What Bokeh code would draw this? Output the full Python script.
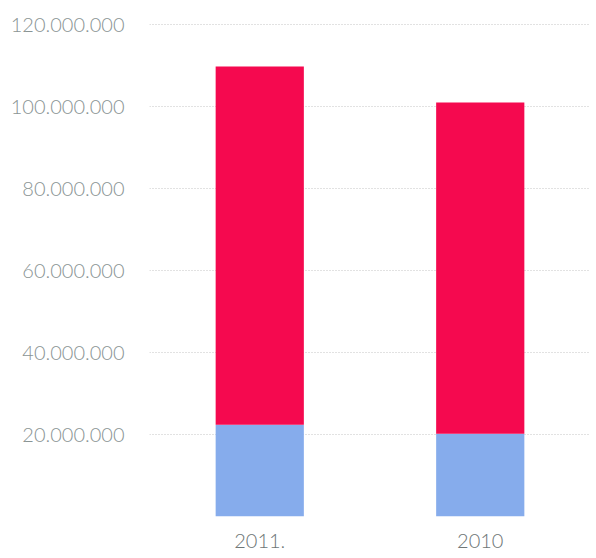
from bokeh.plotting import figure
from bokeh.models import FactorRange, Range1d, FixedTicker, CustomJSTickFormatter
from bokeh.embed import file_html
from bokeh.resources import INLINE

years = ["2011.", "2010"]
blue_part = [22_400_000, 20_200_000]
red_part = [87_400_000, 80_800_000]
y_ticks = [0, 20_000_000, 40_000_000, 60_000_000, 80_000_000, 100_000_000, 120_000_000]

data = {"year": years, "blue": blue_part, "red": red_part}

p = figure(x_range=FactorRange(*years), y_range=Range1d(0, 121_000_000),
           frame_width=441, frame_height=496, output_backend="svg", toolbar_location=None,
           min_border_left=149, min_border_right=4, min_border_top=20, min_border_bottom=40)

p.vbar_stack(["blue", "red"], x="year", width=0.4, source=data,
             color=["#86acec", "#f5094f"], line_color=None)

p.outline_line_color = None
p.background_fill_color = "white"
p.border_fill_color = "white"

p.xgrid.grid_line_color = None
p.ygrid.grid_line_color = "#c4c4c4"
p.ygrid.grid_line_dash = "1 2"
p.ygrid.grid_line_width = 1

p.yaxis.ticker = FixedTicker(ticks=y_ticks)
p.yaxis.formatter = CustomJSTickFormatter(code="""
if (tick == 0) { return ""; }
return tick.toString().replace(/\\B(?=(\\d{3})+(?!\\d))/g, ".");
""")
for ax in (p.xaxis, p.yaxis):
    ax.axis_line_color = None
    ax.major_tick_line_color = None
    ax.minor_tick_line_color = None
    ax.major_tick_out = 0
    ax.major_tick_in = 0
    ax.major_label_text_font = "Lato Light, Lato"
    ax.major_label_text_font_size = "20px"
p.yaxis.major_label_text_color = "#8a9494"
p.yaxis.major_label_standoff = 25
p.xaxis.major_label_text_color = "#6e7676"
p.xaxis.major_label_standoff = 17

open("out.html", "w").write(file_html(p, INLINE))
